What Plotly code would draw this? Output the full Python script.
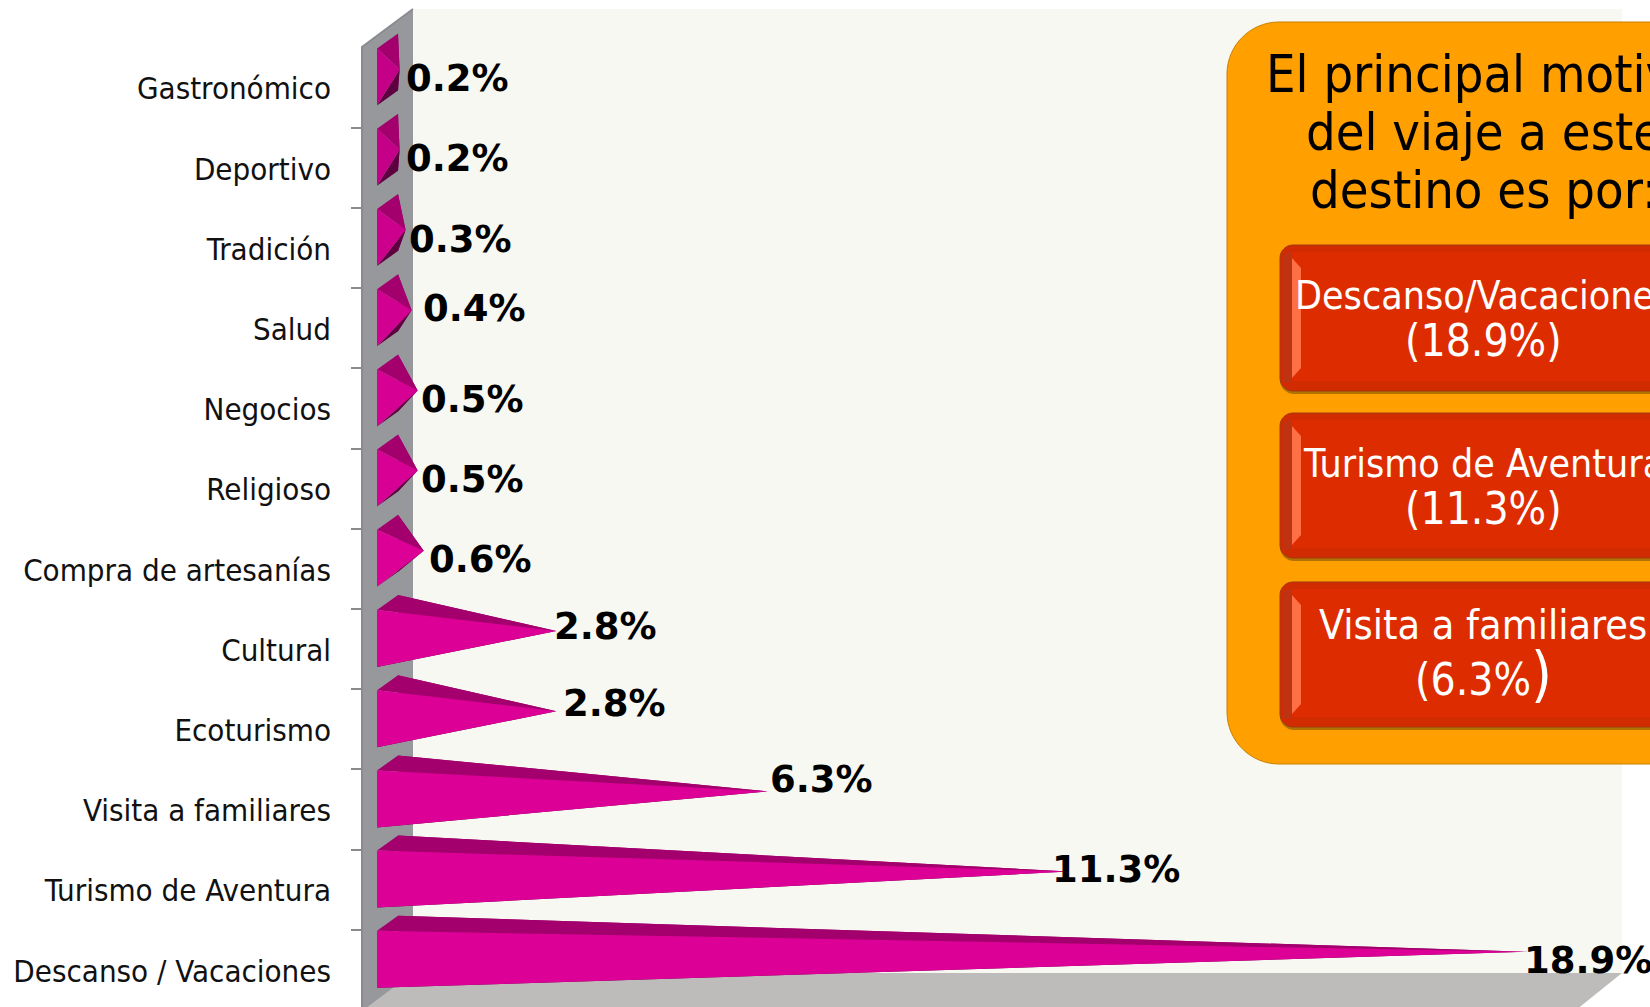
import plotly.graph_objects as go

# ---- data (bottom to top) ----
categories = ["Descanso / Vacaciones", "Turismo de Aventura", "Visita a familiares", "Ecoturismo",
              "Cultural", "Compra de artesanías", "Religioso", "Negocios", "Salud", "Tradición",
              "Deportivo", "Gastronómico"]
values = [18.9, 11.3, 6.3, 2.8, 2.8, 0.6, 0.5, 0.5, 0.4, 0.3, 0.2, 0.2]

panel_title = ["El principal motivo", "del viaje a este", "destino es por:"]
panel_items = ["Descanso/Vacaciones", "Turismo de Aventura", "Visita a familiares"]
panel_values = ["(18.9%)", "(11.3%)", "(6.3%<span style='font-size:60px'>)</span>"]

# ---- styles / layout constants ----
W, H = 1650, 1007
L = 363
XS = 60.3
X0 = 387.5
Y0 = 969.8
YS = 80.2
FONT = "DejaVu Sans Condensed"
BOLD = "DejaVu Sans"
front_cols = ["#DC0096", "#DC0096", "#DC0096", "#DC0096", "#DC0096", "#DC0096",
              "#D80094", "#D60092", "#D20090", "#CC008C", "#C40088", "#C40088"]
TOP = "#A3006E"
UNDER = "#5E0040"

# label anchors, read in pixels (left edge, vertical centre), hand placed in the original
label_pos = [(1522, 960), (1050, 869), (768, 779), (561, 703), (552, 626), (427, 559),
             (419, 479), (419, 399), (421, 308), (407, 239), (404, 158), (404, 78)]

xp = lambda px: (px - L) / (W - L)
yp = lambda py: 1 - py / H
xd = lambda px: (px - X0) / XS
yd = lambda py: (Y0 - py) / YS


def poly(pts, fill, line=None, lw=0, close=True):
    path = "M " + " L ".join(f"{xp(x):.5f},{yp(y):.5f}" for x, y in pts) + (" Z" if close else "")
    return dict(type="path", path=path, xref="paper", yref="paper", fillcolor=fill,
                line=dict(color=line or fill, width=lw), layer="below")


def rrect(x0, y0, x1, y1, r, fill, line=None, lw=0):
    k = r * 0.45
    c = [f"M {xp(x0 + r):.5f},{yp(y0):.5f}", f"L {xp(x1 - r):.5f},{yp(y0):.5f}",
         f"C {xp(x1 - k):.5f},{yp(y0):.5f} {xp(x1):.5f},{yp(y0 + k):.5f} {xp(x1):.5f},{yp(y0 + r):.5f}",
         f"L {xp(x1):.5f},{yp(y1 - r):.5f}",
         f"C {xp(x1):.5f},{yp(y1 - k):.5f} {xp(x1 - k):.5f},{yp(y1):.5f} {xp(x1 - r):.5f},{yp(y1):.5f}",
         f"L {xp(x0 + r):.5f},{yp(y1):.5f}",
         f"C {xp(x0 + k):.5f},{yp(y1):.5f} {xp(x0):.5f},{yp(y1 - k):.5f} {xp(x0):.5f},{yp(y1 - r):.5f}",
         f"L {xp(x0):.5f},{yp(y0 + r):.5f}",
         f"C {xp(x0):.5f},{yp(y0 + k):.5f} {xp(x0 + k):.5f},{yp(y0):.5f} {xp(x0 + r):.5f},{yp(y0):.5f} Z"]
    return dict(type="path", path=" ".join(c), xref="paper", yref="paper", fillcolor=fill,
                line=dict(color=line or fill, width=lw), layer="below")


shapes = [
    poly([(413, 9), (1622, 9), (1622, 973), (413, 973)], "#F7F8F2"),
    poly([(413, 973), (1622, 973), (1576, 1010), (362, 1010)], "#BDBCBA"),
    poly([(362, 47), (413, 9), (413, 973), (362, 1011)], "#97989C"),
    poly([(362, 1011), (362, 47), (413, 9)], "rgba(0,0,0,0)", "#8A8B8E", 2, close=False),
]
# callout
shapes.append(rrect(1227, 22, 1720, 764, 52, "#FF9F00", "#C98000", 1))
for y0, y1 in [(245, 391), (413, 558), (582, 727)]:
    shapes.append(rrect(1280, y0 + 3, 1720, y1 + 3, 14, "#B07200"))
    shapes.append(rrect(1280, y0, 1720, y1, 13, "#D12B02", "#A23A12", 1))
    shapes.append(poly([(1283, y0 + 10), (1292, y0 + 6), (1292, y1 - 9), (1283, y1 - 8)], "#BE3412"))
    shapes.append(poly([(1292, y0 + 7), (1720, y0 + 7), (1720, y1 - 10), (1292, y1 - 10)], "#DD2C00"))
    shapes.append(poly([(1292, y0 + 13), (1301, y0 + 23), (1301, y1 - 23), (1292, y1 - 13)], "#FF7044"))

# pyramid geometry in axis units, relative to the category slot
DX = 10.5 / XS
Y_FT, Y_FB, Y_BT, Y_BB, Y_AP = 39 / YS, -18 / YS, 54 / YS, -3 / YS, 18 / YS

fig = go.Figure()


def face(xs, ys, col):
    fig.add_trace(go.Scatter(x=xs, y=ys, mode="lines", fill="toself", fillcolor=col,
                             line=dict(width=0, color=col), hoverinfo="skip", showlegend=False))


for i, v in enumerate(values):
    face([DX, DX, v], [i + Y_BT, i + Y_BB, i + Y_AP], TOP)
    face([-DX, DX, v], [i + Y_FB, i + Y_BB, i + Y_AP], UNDER)
    face([-DX, DX, v], [i + Y_FT, i + Y_BT, i + Y_AP], TOP)
    face([-DX, -DX, v], [i + Y_FT, i + Y_FB, i + Y_AP], front_cols[i])

anns = []
for i, (v, (lx, ly)) in enumerate(zip(values, label_pos)):
    anns.append(dict(x=v, y=i, xref="x", yref="y", text=f"{v}%", showarrow=False, xanchor="left",
                     yanchor="middle", xshift=lx - (X0 + XS * v), yshift=(Y0 - YS * i) - ly,
                     font=dict(family=BOLD, size=37, color="black", weight="bold")))


def txt(s, cx, baseline, size, color):
    return dict(x=xp(cx), y=yp(baseline - 0.36 * size), xref="paper", yref="paper", text=s,
                showarrow=False, xanchor="center", yanchor="middle",
                font=dict(family=FONT, size=size, color=color))


for s, b in zip(panel_title, [93, 151, 209]):
    anns.append(txt(s, 1484, b, 52, "black"))
for a, b1, size in zip(panel_items, [310, 478, 640], [39, 39, 41]):
    anns.append(txt(a, 1483, b1, size, "white"))
for b, b2 in zip(panel_values, [356, 524, 690]):
    anns.append(txt(b, 1483, b2, 44, "white"))

fig.update_layout(
    width=W, height=H, autosize=False,
    margin=dict(l=L, r=0, t=0, b=0, pad=0),
    paper_bgcolor="white", plot_bgcolor="rgba(0,0,0,0)",
    shapes=shapes, annotations=anns, showlegend=False,
    xaxis=dict(range=[xd(L), xd(W)], visible=False, fixedrange=True),
    yaxis=dict(range=[yd(H), yd(0)], tickmode="array",
               tickvals=[i - 1 / YS for i in range(len(categories))],
               ticktext=categories, ticks="", showgrid=False, zeroline=False, fixedrange=True,
               showline=False, ticklabelstandoff=31,
               tickfont=dict(family=FONT, size=31, color="#111111"),
               minor=dict(tickmode="array", tickvals=[i - 0.5 for i in range(1, len(categories))],
                          ticks="outside", ticklen=11, tickcolor="#8A8A8A", tickwidth=2,
                          showgrid=False)),
)

fig.write_html("out.html", config=dict(displayModeBar=False),
               post_script="document.body.style.margin='0';document.documentElement.style.overflow='hidden';")
